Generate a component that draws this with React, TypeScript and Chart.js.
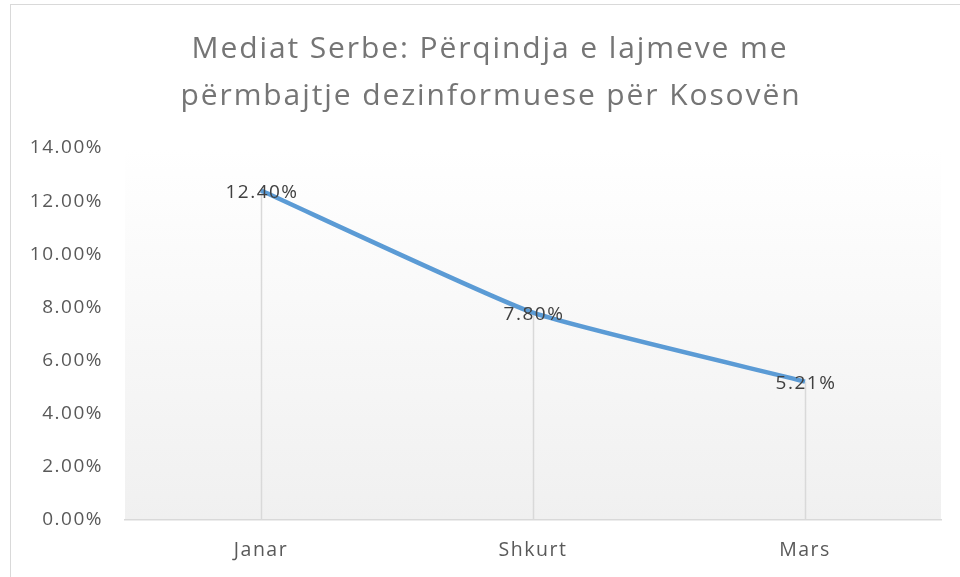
import React, { useEffect, useRef } from "react";
import { Chart, registerables } from "chart.js";

Chart.register(...registerables);

const categories = ["Janar", "Shkurt", "Mars"];
const values = [12.4, 7.8, 5.21];
const valueLabels = ["12.40%", "7.80%", "5.21%"];
const titleLines = ["Mediat Serbe: Përqindja e lajmeve me", "përmbajtje dezinformuese për Kosovën"];

const FONT = "'Open Sans', sans-serif";

const decorPlugin = {
  id: "decor",
  beforeDraw(chart: any) {
    const { ctx, chartArea, width, height } = chart;
    ctx.save();
    ctx.fillStyle = "#ffffff";
    ctx.fillRect(0, 0, width, height);
    ctx.strokeStyle = "#d9d9d9";
    ctx.lineWidth = 1;
    ctx.strokeRect(10.5, 4.5, width + 20, height + 20);
    const g = ctx.createLinearGradient(0, chartArea.top, 0, chartArea.bottom);
    g.addColorStop(0, "#ffffff");
    g.addColorStop(1, "#f0f0f0");
    ctx.fillStyle = g;
    ctx.fillRect(chartArea.left, chartArea.top, chartArea.right - chartArea.left, chartArea.bottom - chartArea.top);
    // title
    ctx.fillStyle = "#757575";
    ctx.font = `30px ${FONT}`;
    (ctx as any).letterSpacing = "1.9px";
    ctx.textAlign = "center";
    ctx.textBaseline = "alphabetic";
    ctx.fillText(titleLines[0], 490, 58);
    ctx.fillText(titleLines[1], 491, 105);
    ctx.restore();
    (ctx as any).letterSpacing = "1.5px";
  },
  beforeDatasetsDraw(chart: any) {
    const { ctx, chartArea } = chart;
    const meta = chart.getDatasetMeta(0);
    ctx.save();
    ctx.strokeStyle = "#d9d9d9";
    ctx.lineWidth = 1.5;
    meta.data.forEach((p: any) => {
      ctx.beginPath();
      ctx.moveTo(Math.round(p.x) + 0.5, p.y);
      ctx.lineTo(Math.round(p.x) + 0.5, chartArea.bottom);
      ctx.stroke();
    });
    ctx.restore();
  },
  afterDatasetsDraw(chart: any) {
    const { ctx } = chart;
    const meta = chart.getDatasetMeta(0);
    ctx.save();
    ctx.fillStyle = "#404040";
    ctx.font = `19px ${FONT}`;
    (ctx as any).letterSpacing = "1.5px";
    ctx.textAlign = "center";
    ctx.textBaseline = "middle";
    meta.data.forEach((p: any, i: number) => {
      ctx.fillText(valueLabels[i], p.x + 1, p.y + 2);
    });
    ctx.restore();
  },
};

export default function App() {
  const ref = useRef<HTMLCanvasElement | null>(null);
  useEffect(() => {
    if (!ref.current) return;
    const chart = new Chart(ref.current, {
      type: "line",
      data: {
        labels: categories,
        datasets: [
          {
            data: values,
            borderColor: "#5b9bd5",
            borderWidth: 4.5,
            pointRadius: 0,
            tension: 0.15,
            fill: false,
          },
        ],
      },
      options: {
        animation: false,
        responsive: true,
        maintainAspectRatio: false,
        layout: { padding: { top: 148, right: 19, bottom: 0, left: 0 } },
        plugins: { legend: { display: false }, tooltip: { enabled: false }, title: { display: false } },
        scales: {
          x: {
            offset: true,
            grid: { display: false, drawTicks: false },
            border: { display: true, color: "#d9d9d9", width: 1.5 },
            ticks: { color: "#595959", font: { family: FONT, size: 19.5 }, padding: 19 },
            afterFit: (s: any) => {
              s.height = 57;
            },
          },
          y: {
            min: 0,
            max: 14,
            grid: { display: false, drawTicks: false },
            border: { display: false },
            ticks: {
              stepSize: 2,
              color: "#595959",
              font: { family: FONT, size: 19 },
              padding: 22,
              callback: (v: any) => Number(v).toFixed(2) + "%",
            },
            afterFit: (s: any) => {
              s.width = 125;
            },
          },
        },
      },
      plugins: [decorPlugin],
    });
    return () => chart.destroy();
  }, []);
  return (
    <div style={{ position: "fixed", left: 0, top: 0, width: 960, height: 577 }}>
      <canvas ref={ref} />
    </div>
  );
}
